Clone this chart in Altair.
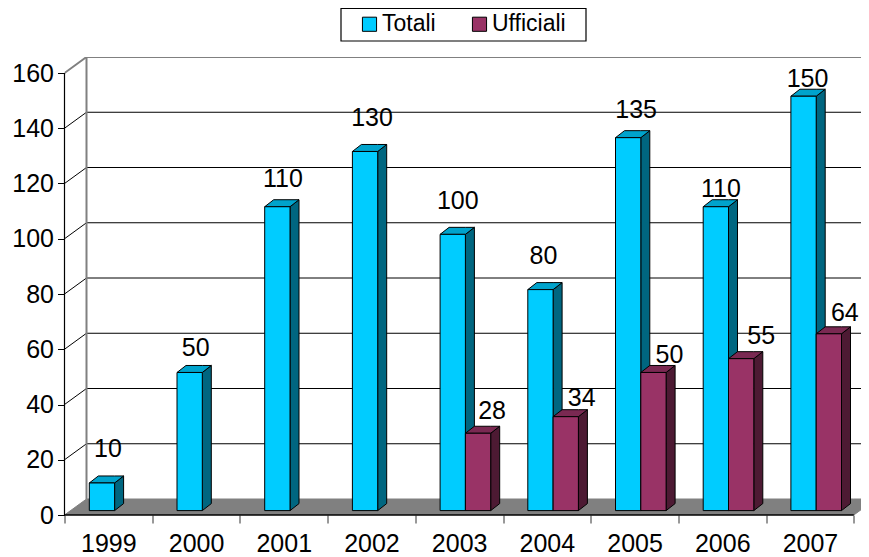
import altair as alt
import pandas as pd

years = ["1999", "2000", "2001", "2002", "2003", "2004", "2005", "2006", "2007"]
totali = [10, 50, 110, 130, 100, 80, 135, 110, 150]
ufficiali = [None, None, None, None, 28, 34, 50, 55, 64]
y_ticks = [0, 20, 40, 60, 80, 100, 120, 140, 160]

FONT = "Liberation Sans"
PX_X = 87.7
PX_Y = 2.7625
W, H = 796.5, 458
XMAX, YMAX = W / PX_X, H / PX_Y
WALL_DX, WALL_DY = 22 / PX_X, 16 / PX_Y
BAR_BASE = 4.4 / PX_Y
BAR_DX, BAR_DY = 9 / PX_X, 7 / PX_Y
BAR_W = 25.3 / PX_X
BAR_START = 24.8 / PX_X

# label nudges relative to the bar top (px): (x from bar centre, baseline above bar top)
nudge_t = [(6, 25.5), (6, 16.5), (5.5, 19.5), (7, 25.5), (5, 25.5), (3, 25.5), (8, 19.5), (5, 9.5), (4, 9.5)]
nudge_u = [None, None, None, None, (14, 14.5), (16, 10.5), (16, 9.5), (20, 14.5), (16, 12.5)]

x_scale = alt.Scale(domain=[0, XMAX], nice=False, zero=False)
x = alt.X("x:Q", scale=x_scale, title=None,
          axis=alt.Axis(values=list(range(10)), labels=False, domain=False, grid=False, orient="bottom",
                        tickSize=8, tickColor="#333333", tickWidth=1))
x_plain = alt.X("x:Q", axis=None, scale=x_scale)
y_plain = alt.Y("y:Q", scale=alt.Scale(domain=[0, YMAX], nice=False, zero=False), title=None,
                axis=alt.Axis(values=y_ticks, domain=False, grid=False, tickSize=7, tickColor="black",
                              labelFont=FONT, labelFontSize=25, labelColor="black", labelPadding=4))


def poly(pts_by_group):
    rows = []
    for g, pts in pts_by_group.items():
        for px, py, py2 in pts:
            rows.append({"g": g, "x": px, "y": py, "y2": py2})
    return pd.DataFrame(rows)


def area(df, fill, stroke="black", sw=1):
    return alt.Chart(df).mark_area(fill=fill, stroke=stroke, strokeWidth=sw, interpolate="linear",
                                   clip=True, opacity=1).encode(
        x=x_plain, y=y_plain, y2="y2:Q", detail="g:N")


def series_layers(values, slot, name, side, top):
    sides, tops, fronts = {}, {}, []
    for i, v in enumerate(values):
        if v is None:
            continue
        x1 = i + BAR_START + slot * BAR_W
        x2 = x1 + BAR_W
        b = BAR_BASE
        t = v + b
        sides[i] = [(x2, b, t), (x2 + BAR_DX, b + BAR_DY, t + BAR_DY)]
        tops[i] = [(x1, t, t), (x1 + BAR_DX, t, t + BAR_DY), (x2, t, t + BAR_DY),
                   (x2 + BAR_DX, t + BAR_DY, t + BAR_DY)]
        fronts.append({"x": x1, "x2": x2, "y": b, "y2": t, "serie": name})
    front = alt.Chart(pd.DataFrame(fronts)).mark_bar(stroke="black", strokeWidth=1, opacity=1).encode(
        x=x_plain, x2="x2:Q", y=y_plain, y2="y2:Q",
        color=alt.Color("serie:N",
                        scale=alt.Scale(domain=["Totali", "Ufficiali"], range=["#00CCFF", "#993366"]),
                        legend=alt.Legend(title=None, orient="none", legendX=293.5, legendY=-44.5,
                                          direction="horizontal", columns=2, symbolType="square",
                                          symbolSize=200, symbolStrokeColor="black", symbolStrokeWidth=1,
                                          symbolOpacity=1, labelFont=FONT, labelFontSize=23,
                                          labelColor="black", padding=0, columnPadding=32, labelOffset=1,
                                          labelLimit=200)))
    return [area(poly(sides), side), area(poly(tops), top), front]


grid_rows = []
for v in y_ticks[1:]:
    grid_rows += [{"g": v, "x": 0, "y": v}, {"g": v, "x": WALL_DX, "y": v + WALL_DY},
                  {"g": v, "x": XMAX, "y": v + WALL_DY}]
grid_df = pd.DataFrame(grid_rows)
grid_black = alt.Chart(grid_df[grid_df.g < 160]).mark_line(color="black", strokeWidth=1, clip=True).encode(
    x=x_plain, y=y_plain, detail="g:N", order="x:Q")
grid_top = alt.Chart(grid_df[grid_df.g == 160]).mark_line(color="#808080", strokeWidth=2, clip=True).encode(
    x=x_plain, y=y_plain, detail="g:N", order="x:Q")

wall = alt.Chart(pd.DataFrame([{"x": WALL_DX, "y": WALL_DY, "y2": 160 + WALL_DY}])).mark_rule(
    color="#808080", strokeWidth=2).encode(x=x_plain, y=y_plain, y2="y2:Q")

floor = area(poly({"f": [(0, 0, 0), (WALL_DX, 0, WALL_DY), (9, 0, WALL_DY), (9 + WALL_DX, WALL_DY, WALL_DY)]}),
             "#808080", stroke="#808080", sw=1)

axis_y = alt.Chart(pd.DataFrame([{"x": 0, "y": 0, "y2": 160}])).mark_rule(color="black", strokeWidth=1.2).encode(
    x=x_plain, y=y_plain, y2="y2:Q")
axis_x = alt.Chart(pd.DataFrame([{"x": 0, "x2": 9, "y": 0}])).mark_rule(color="black", strokeWidth=1.5).encode(
    x=x_plain, x2="x2:Q", y=y_plain)

# legend frame, behind the legend entries
legend_frame = alt.Chart(pd.DataFrame({"a": [0]})).mark_rect(fill="white", stroke="black", strokeWidth=1.2).encode(
    x=alt.value(276.5), x2=alt.value(521.5), y=alt.value(-48.5), y2=alt.value(-16))

# axes
tick_axis = alt.Chart(pd.DataFrame({"x": [0.0], "y": [0.0]})).mark_point(opacity=0).encode(x=x, y=y_plain)
year_expr = "[" + ",".join(f"'{y}'" for y in years) + "][floor(datum.value)]"
label_axis = alt.Chart(pd.DataFrame({"x": [0.0], "y": [0.0]})).mark_point(opacity=0).encode(
    x=alt.X("x:Q", scale=x_scale, title=None,
            axis=alt.Axis(values=[i + 0.5 for i in range(9)], labelExpr=year_expr, domain=False, grid=False,
                          ticks=False, tickSize=0, labelFont=FONT, labelFontSize=25, labelColor="black",
                          orient="bottom", labelPadding=16, labelFlush=False, labelOverlap=False)),
    y=y_plain)


def text_df(values, nudges, slot):
    rows = []
    for i, (v, n) in enumerate(zip(values, nudges)):
        if v is None:
            continue
        cx = i + BAR_START + slot * BAR_W + BAR_W / 2 + n[0] / PX_X
        rows.append({"x": cx, "y": v + BAR_BASE + n[1] / PX_Y, "t": str(v)})
    return pd.DataFrame(rows)


def labels(df):
    return alt.Chart(df).mark_text(font=FONT, fontSize=25, color="black", baseline="alphabetic",
                                   align="center").encode(x=x_plain, y=y_plain, text="t:N")


layers = [legend_frame, tick_axis, label_axis, floor, grid_black, grid_top, wall, axis_y, axis_x]
layers += series_layers(totali, 0, "Totali", "#006680", "#00A3CC")
layers += series_layers(ufficiali, 1, "Ufficiali", "#4D1A33", "#7A2952")
layers += [labels(text_df(totali, nudge_t, 0)), labels(text_df(ufficiali, nudge_u, 1))]

chart = alt.layer(*layers).resolve_axis(x="independent").properties(
    width=W, height=H, background="white",
    padding={"left": 56.5, "top": 49, "right": 0, "bottom": 40},
    autosize=alt.AutoSizeParams(type="none", contains="content"),
).configure_view(stroke=None)

chart.save("out.html", embed_options={"renderer": "svg", "actions": False})
